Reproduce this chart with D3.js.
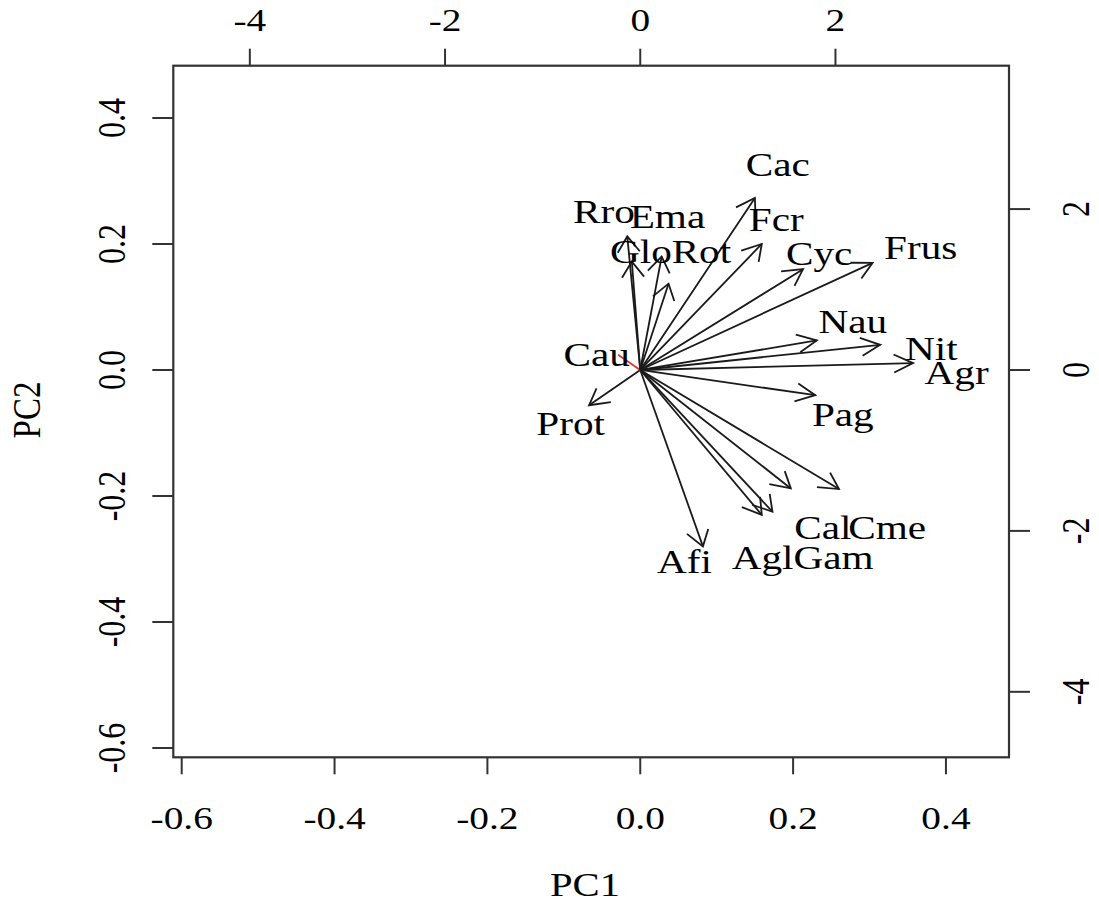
<!doctype html>
<html>
<head>
<meta charset="utf-8">
<title>PCA biplot</title>
<style>
    body { margin: 0; padding: 0; background: #fff; }
    text { font-family: "Liberation Serif", "Times New Roman", serif; fill: #000; }
</style>
</head>
<body>
<svg id="biplot" width="1099" height="903"></svg>
<script src="https://d3js.org/d3.v7.min.js"></script>
<script>
// variable names and loadings (arrow tips)
var vars   = ["Cac", "Fcr", "Cyc", "Frus", "Nau", "Nit", "Agr", "Pag", "Cme", "Cal",
              "Gam", "Agl", "Afi", "Prot", "Cau", "Rro", "Glo", "Ema", "Rot"];
var pc1    = [0.150, 0.159, 0.213, 0.304, 0.231, 0.314, 0.357, 0.229, 0.260, 0.197,
              0.173, 0.159, 0.082, -0.067, -0.029, -0.017, -0.011, 0.028, 0.037];
var pc2    = [0.273, 0.200, 0.160, 0.170, 0.047, 0.040, 0.011, -0.040, -0.189, -0.188,
              -0.225, -0.230, -0.280, -0.056, 0.024, 0.212, 0.172, 0.180, 0.137];
// where each label sits
var labPc1 = [0.180, 0.178, 0.234, 0.367, 0.278, 0.381, 0.414, 0.265, 0.323, 0.239,
              0.253, 0.160, 0.058, -0.091, -0.057, -0.0475, 0.001, 0.0356, 0.080];
var labPc2 = [0.325, 0.238, 0.185, 0.193, 0.077, 0.034, -0.005, -0.071, -0.251, -0.251,
              -0.299, -0.299, -0.304, -0.085, 0.024, 0.251, 0.188, 0.243, 0.188];

var loadTicks = [-0.6, -0.4, -0.2, 0.0, 0.2, 0.4];
var scoreTicks = [-4, -2, 0, 2];

var box = {left: 173.3, right: 1009, top: 65.7, bottom: 757.3};
var stretch = 1.23;   // the picture is wider than tall
var k = 7.83;         // score / loading ratio of the two axis sets

var xDom = [-0.611, 0.4825], yDom = [-0.6148, 0.483];
var x = d3.scaleLinear().domain(xDom).range([box.left, box.right]);
var y = d3.scaleLinear().domain(yDom).range([box.bottom, box.top]);
var xTop = d3.scaleLinear().domain([xDom[0] * k, xDom[1] * k]).range([box.left, box.right]);
var yRight = d3.scaleLinear().domain([yDom[0] * k, yDom[1] * k]).range([box.bottom, box.top]);

var svg = d3.select("#biplot");

function label(g, tx, ty, str, rot, size) {
    return g.append("text")
        .attr("transform", "translate(" + tx + "," + ty + ") scale(" + stretch + ",1)" + (rot ? " rotate(" + rot + ")" : ""))
        .attr("text-anchor", "middle")
        .attr("dy", "0.33em")
        .style("font-size", (size || 32) + "px")
        .text(str);
}

var fmt = d3.format(".1f");

// bottom axis
loadTicks.forEach(function(t) {
    svg.append("line").attr("x1", x(t)).attr("x2", x(t))
        .attr("y1", box.bottom).attr("y2", box.bottom + 17)
        .attr("stroke", "#333").attr("stroke-width", 2);
    label(svg, x(t), 818, fmt(t).replace("\u2212", "-"));
});
// left axis
loadTicks.forEach(function(t) {
    svg.append("line").attr("x1", box.left).attr("x2", box.left - 21)
        .attr("y1", y(t)).attr("y2", y(t))
        .attr("stroke", "#333").attr("stroke-width", 2);
    label(svg, 112, y(t), fmt(t).replace("\u2212", "-"), -90);
});
// top axis
scoreTicks.forEach(function(t) {
    svg.append("line").attr("x1", xTop(t)).attr("x2", xTop(t))
        .attr("y1", box.top).attr("y2", box.top - 17)
        .attr("stroke", "#333").attr("stroke-width", 2);
    label(svg, xTop(t), 20, String(t));
});
// right axis
scoreTicks.forEach(function(t) {
    svg.append("line").attr("x1", box.right).attr("x2", box.right + 21)
        .attr("y1", yRight(t)).attr("y2", yRight(t))
        .attr("stroke", "#333").attr("stroke-width", 2);
    label(svg, 1076, yRight(t), String(t), -90);
});

svg.append("rect")
    .attr("x", box.left).attr("y", box.top)
    .attr("width", box.right - box.left).attr("height", box.bottom - box.top)
    .attr("fill", "none").attr("stroke", "#333").attr("stroke-width", 2.2);

label(svg, 585, 885, "PC1", 0, 33);
label(svg, 27, 410, "PC2", -90, 33);

// arrows
var ox = x(0), oy = y(0);
var headLen = 18, headAng = Math.PI / 6;

vars.forEach(function(v, i) {
    var tx = x(pc1[i]), ty = y(pc2[i]);
    var col = v === "Cau" ? "#e8302a" : "#1a1a1a";
    var a = Math.atan2(ty - oy, (tx - ox) / stretch);
    var w1x = tx + headLen * Math.cos(a + Math.PI - headAng) * stretch,
        w1y = ty + headLen * Math.sin(a + Math.PI - headAng),
        w2x = tx + headLen * Math.cos(a + Math.PI + headAng) * stretch,
        w2y = ty + headLen * Math.sin(a + Math.PI + headAng);
    svg.append("line")
        .attr("x1", ox).attr("y1", oy).attr("x2", tx).attr("y2", ty)
        .attr("stroke", col).attr("stroke-width", 1.8);
    if (v !== "Cau") {
        svg.append("path")
            .attr("d", "M" + w1x + "," + w1y + "L" + tx + "," + ty + "L" + w2x + "," + w2y)
            .attr("fill", "none").attr("stroke", col).attr("stroke-width", 1.8);
    }
});

vars.forEach(function(v, i) {
    label(svg, x(labPc1[i]), y(labPc2[i]), v, 0, 33.5);
});
</script>
</body>
</html>
